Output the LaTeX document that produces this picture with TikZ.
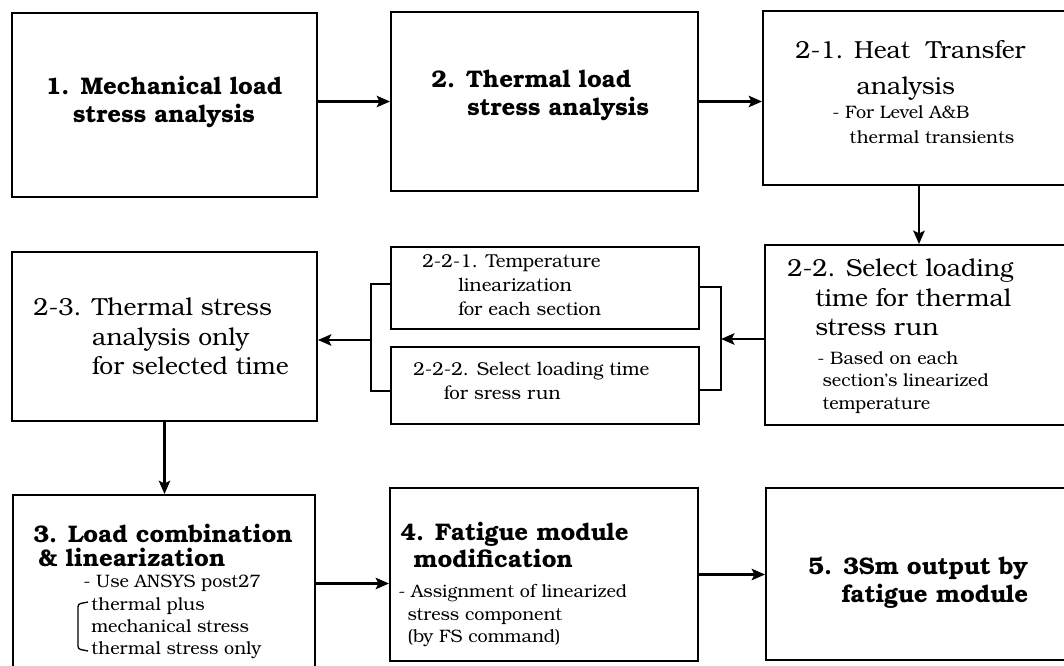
\documentclass[tikz,border=0pt]{standalone}
\usepackage{fontspec}
\setmainfont{texgyrebonum}[Extension=.otf, UprightFont=*-regular, BoldFont=*-bold, ItalicFont=*-italic, BoldItalicFont=*-bolditalic]
\usetikzlibrary{arrows.meta,fit}
\begin{document}
\begin{tikzpicture}[x=0.75pt,y=-0.75pt,
  box/.style={draw, line width=1.4pt, inner sep=0pt},
  arr/.style={line width=2.1pt, -{Stealth[length=10pt,width=8.5pt,inset=2pt]}},
  brk/.style={line width=1.4pt},
  ttl/.style={font=\fontsize{18}{21}\selectfont\bfseries, inner sep=0pt, anchor=north west, align=left},
  big/.style={font=\fontsize{18.5}{22}\selectfont, inner sep=0pt, anchor=north west, align=left},
  med/.style={font=\fontsize{14}{18}\selectfont, inner sep=0pt, anchor=north west, align=left},
  sml/.style={font=\fontsize{13.5}{17}\selectfont, inner sep=0pt, anchor=north west, align=left}]
\useasboundingbox (0,0) rectangle (1064,666);
\clip (0,0) rectangle (1064,666);
\fill[white] (0,0) rectangle (1064,666);
% boxes
\node[box, fit={(12,13) (317,197)}] (b1) {};
\node[box, fit={(391,12) (698,191)}] (b2) {};
\node[box, fit={(763,11) (1075,185)}] (b21) {};
\node[box, fit={(765,245) (1075,425)}] (b22) {};
\node[box, fit={(391,247) (699,329)}] (b221) {};
\node[box, fit={(391,347) (699,424)}] (b222) {};
\node[box, fit={(12,252) (317,421)}] (b23) {};
\node[box, fit={(13,495) (315,672)}] (b3) {};
\node[box, fit={(390,488) (698,661)}] (b4) {};
\node[box, fit={(766,488) (1075,660)}] (b5) {};
% texts
\node[ttl, anchor=north, align=center] (t1) at (164,76) {1. Mechanical load\\stress analysis};
\node[ttl] (t2) at (431,70) {2. Thermal load\\\hspace*{27pt}stress analysis};
\node[big] (t21) at (795,40) {2-1. Heat\ \ Transfer\\[5pt]\hspace*{46pt}analysis};
\node[sml] (t21s) at (832,105) {- For Level A\&B\\[2pt]\hspace*{13pt}thermal transients};
\node[big] (t22) at (787,259) {2-2. Select loading\\\hspace*{21pt}time for thermal\\\hspace*{21pt}stress run};
\node[sml] (t22s) at (817,351) {- Based on each\\\hspace*{4pt}section's linearized\\\hspace*{4pt}temperature};
\node[med] (t221) at (422,254) {2-2-1. Temperature\\\hspace*{27pt}linearization\\\hspace*{27pt}for each section};
\node[med] (t222) at (413,362) {2-2-2. Select loading time\\\hspace*{23pt}for sress run};
\node[big] (t23) at (33,298) {2-3. Thermal stress\\\hphantom{2-3. }analysis only\\\hphantom{2-3. }for selected time};
\node[ttl, font=\fontsize{18}{18}\selectfont\bfseries] (t3) at (33,524) {3. Load combination\\\hspace*{4pt}\& linearization};
\node[sml] (t3s) at (83,575) {- Use ANSYS post27};
\node[sml, font=\fontsize{13.5}{16.5}\selectfont] (t3l) at (91,597) {thermal plus\\mechanical stress\\thermal stress only};
\node[ttl, font=\fontsize{18}{20}\selectfont\bfseries] (t4) at (400,522) {4. Fatigue module\\\hspace*{10pt}modification};
\node[sml] (t4s) at (398,584) {- Assignment of linearized\\\hspace*{7pt}stress component\\\hspace*{7pt}(by FS command)};
\node[ttl] (t5) at (808,557) {5. 3Sm output by\\\hspace*{25pt}fatigue module};
% bracket inside box 3
\draw[line width=1pt, rounded corners=2pt] (88,602) -- (78,604) -- (78,649) -- (88,651);
% connectors
\draw[arr] (b2.west -| b1.east) -- (b2.west);
\draw[arr] (b2.east) -- (b2.east -| b21.west);
\draw[arr] (b21.south) -- (b21.south |- b22.north);
\coordinate (rt) at (721,287);
\coordinate (rb) at (721,390);
\coordinate (rm) at (721,339);
\draw[brk] (rt -| b221.east) -- (rt) -- (rb) -- (rb -| b222.east);
\draw[arr] (rm -| b22.west) -- (rm);
\coordinate (lt) at (371,284);
\coordinate (lb) at (371,391);
\coordinate (lm) at (371,340);
\draw[brk] (lt -| b221.west) -- (lt) -- (lb) -- (lb -| b222.west);
\draw[arr] (lm) -- (lm -| b23.east);
\draw[arr] (b23.south) -- (b23.south |- b3.north);
\draw[arr] (b3.east) -- (b3.east -| b4.west);
\draw[arr] (b4.east) -- (b4.east -| b5.west);
\end{tikzpicture}
\end{document}
